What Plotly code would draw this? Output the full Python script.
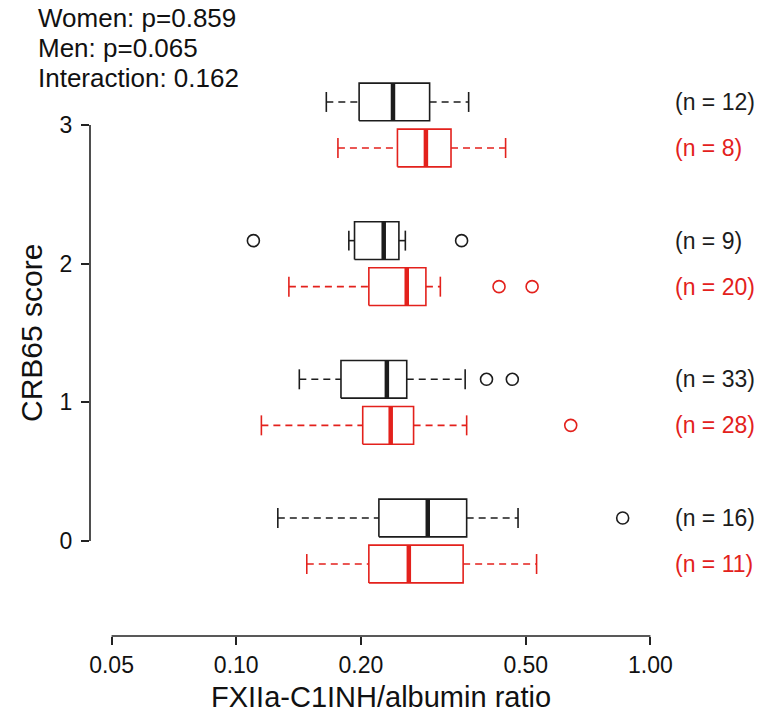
import math
import plotly.graph_objects as go

# ---- data -------------------------------------------------------------
levels = [0, 1, 2, 3]

# Women (black): whisker ends, quartiles, medians, outlying points, group sizes
women_low = [0.126, 0.142, 0.187, 0.165]
women_q1 = [0.221, 0.179, 0.193, 0.198]
women_median = [0.290, 0.231, 0.227, 0.239]
women_q3 = [0.360, 0.258, 0.247, 0.293]
women_high = [0.479, 0.357, 0.256, 0.364]
women_outliers = [[0.857], [0.402, 0.464], [0.110, 0.350], []]
women_n = [16, 33, 9, 12]

# Men (red)
men_low = [0.148, 0.115, 0.134, 0.176]
men_q1 = [0.209, 0.202, 0.209, 0.245]
men_median = [0.261, 0.236, 0.258, 0.287]
men_q3 = [0.353, 0.268, 0.287, 0.330]
men_high = [0.531, 0.360, 0.311, 0.447]
men_outliers = [[], [0.642], [0.431, 0.518], []]
men_n = [11, 28, 20, 8]

x_ticks = [0.05, 0.10, 0.20, 0.50, 1.00]
x_tick_labels = ["0.05", "0.10", "0.20", "0.50", "1.00"]
y_ticks = [0, 1, 2, 3]

stats_lines = ["Women: p=0.859", "Men: p=0.065", "Interaction: 0.162"]

# ---- styling ----------------------------------------------------------
W, H = 763, 716
L, R, T, B = 90, 672, 34, 636          # plot area in pixels
BLACK = "#1c1c1c"
RED = "#e3211c"
FONT = "Liberation Sans, Arial, sans-serif"
OFFSET = 0.166     # vertical shift of each group's box from its level
HALF = 0.136       # half box height
STAPLE = 0.072     # half staple height

# log x range padded by 4% on both sides of the tick span
lo_log, hi_log = math.log10(x_ticks[0]), math.log10(x_ticks[-1])
pad = 0.04 * (hi_log - lo_log)
x_range = [lo_log - pad, hi_log + pad]


def px_x(px):
    return (px - L) / (R - L)


def px_y(py):
    return (B - py) / (B - T)


fig = go.Figure()


def add_box(center, low, q1, med, q3, high, outs, color):
    top, bot = center + HALF, center - HALF
    # dashed whiskers
    fig.add_trace(go.Scatter(
        x=[low, q1, None, q3, high], y=[center, center, None, center, center],
        mode="lines", line=dict(color=color, width=1.6, dash="7px,5px"),
        hoverinfo="skip", showlegend=False))
    # staples
    fig.add_trace(go.Scatter(
        x=[low, low, None, high, high],
        y=[center - STAPLE, center + STAPLE, None, center - STAPLE, center + STAPLE],
        mode="lines", line=dict(color=color, width=1.6),
        hoverinfo="skip", showlegend=False))
    # box
    fig.add_trace(go.Scatter(
        x=[q1, q3, q3, q1, q1], y=[bot, bot, top, top, bot],
        mode="lines", line=dict(color=color, width=1.6),
        hoverinfo="skip", showlegend=False))
    # median
    fig.add_trace(go.Scatter(
        x=[med, med], y=[bot, top], mode="lines",
        line=dict(color=color, width=4.5),
        hoverinfo="skip", showlegend=False))
    # outliers
    if outs:
        fig.add_trace(go.Scatter(
            x=outs, y=[center] * len(outs), mode="markers",
            marker=dict(symbol="circle-open", size=12,
                        color=color, line=dict(width=1.6, color=color)),
            cliponaxis=False, hoverinfo="skip", showlegend=False))


for i, lv in enumerate(levels):
    add_box(lv + OFFSET, women_low[i], women_q1[i], women_median[i],
            women_q3[i], women_high[i], women_outliers[i], BLACK)
    add_box(lv - OFFSET, men_low[i], men_q1[i], men_median[i],
            men_q3[i], men_high[i], men_outliers[i], RED)

annotations = []
for i, lv in enumerate(levels):
    annotations.append(dict(
        x=px_x(673), xref="paper", xanchor="left", y=lv + OFFSET, yref="y",
        text=f"(n = {women_n[i]})", showarrow=False,
        font=dict(size=23, color=BLACK, family=FONT)))
    annotations.append(dict(
        x=px_x(673), xref="paper", xanchor="left", y=lv - OFFSET, yref="y",
        text=f"(n = {men_n[i]})", showarrow=False,
        font=dict(size=23, color=RED, family=FONT)))

for k, line in enumerate(stats_lines):
    annotations.append(dict(
        x=px_x(36), xref="paper", xanchor="left",
        y=px_y(18 + 30 * k), yref="paper", yanchor="middle",
        text=line, showarrow=False,
        font=dict(size=26, color="#111111", family=FONT)))

# axis titles
annotations.append(dict(
    x=0.5, xref="paper", xanchor="center",
    y=px_y(697), yref="paper", yanchor="middle",
    text="FXIIa-C1INH/albumin ratio", showarrow=False,
    font=dict(size=29, color="#111111", family=FONT)))
annotations.append(dict(
    x=px_x(32), xref="paper", xanchor="center",
    y=(y_ticks[0] + y_ticks[-1]) / 2, yref="y", yanchor="middle",
    text="CRB65 score", textangle=-90, showarrow=False,
    font=dict(size=30, color="#111111", family=FONT)))

# axis lines spanning only the tick range
shapes = [
    dict(type="line", xref="x", yref="paper",
         x0=x_ticks[0], x1=x_ticks[-1], y0=0, y1=0,
         line=dict(color="#222222", width=1.6)),
    dict(type="line", xref="paper", yref="y",
         x0=0, x1=0, y0=y_ticks[0], y1=y_ticks[-1],
         line=dict(color="#222222", width=1.6)),
]

fig.update_layout(
    width=W, height=H,
    margin=dict(l=L, r=W - R, t=T, b=H - B, pad=0),
    paper_bgcolor="white", plot_bgcolor="white",
    showlegend=False,
    annotations=annotations, shapes=shapes,
    xaxis=dict(type="log", range=x_range,
               tickvals=x_ticks, ticktext=x_tick_labels,
               ticks="outside", ticklen=8, tickwidth=1.6, tickcolor="#222222",
               ticklabelstandoff=0,
               showline=False, showgrid=False, zeroline=False,
               tickfont=dict(size=23, color="#111111", family=FONT)),
    yaxis=dict(range=[-0.685, 3.656],
               tickvals=y_ticks, ticktext=[str(v) for v in y_ticks],
               ticks="outside", ticklen=8, tickwidth=1.6, tickcolor="#222222",
               ticklabelstandoff=4,
               showline=False, showgrid=False, zeroline=False,
               tickfont=dict(size=23, color="#111111", family=FONT)),
)

fig.write_html("out.html")
